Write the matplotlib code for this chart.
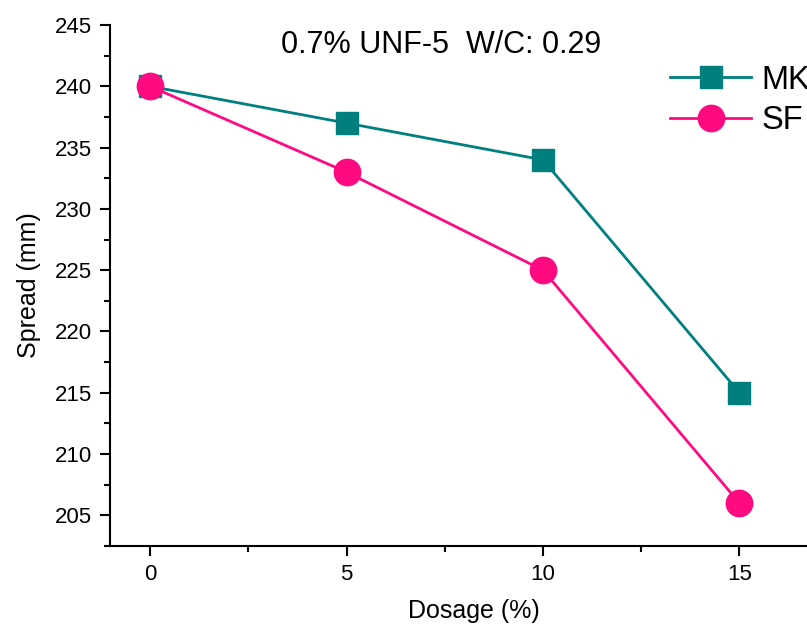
import matplotlib.pyplot as plt
from matplotlib.ticker import MultipleLocator

plt.rcParams['font.family'] = ['Liberation Sans', 'DejaVu Sans']

dosage = [0, 5, 10, 15]
mk = [240, 237, 234, 215]
sf = [240, 233, 225, 206]

teal = '#007f7f'
pink = '#ff0a80'

fig = plt.figure(figsize=(8.07, 6.27), dpi=100)
ax = fig.add_axes([0.1363, 0.1292, 0.9017, 0.8309])

ax.plot(dosage, mk, color=teal, lw=2, marker='s', ms=16, mfc=teal, mec=teal, label='MK')
ax.plot(dosage, sf, color=pink, lw=2, marker='o', ms=19, mfc=pink, mec=pink, label='SF')

ax.set_xlim(-1.02, 17.5)
ax.set_ylim(202.5, 245)
ax.xaxis.set_major_locator(MultipleLocator(5))
ax.xaxis.set_minor_locator(MultipleLocator(2.5))
ax.yaxis.set_major_locator(MultipleLocator(5))
ax.yaxis.set_minor_locator(MultipleLocator(2.5))
ax.tick_params(which='major', direction='out', length=7, width=1.5, labelsize=16, pad=6)
ax.tick_params(which='minor', direction='out', length=4, width=1.5)
for s in ['top', 'right']:
    ax.spines[s].set_visible(False)
for s in ['left', 'bottom']:
    ax.spines[s].set_linewidth(1.5)

ax.set_xlabel('Dosage (%)', fontsize=18, labelpad=10)
ax.set_ylabel('Spread (mm)', fontsize=18, labelpad=10)

fig.text(0.547, 0.928, '0.7% UNF-5  W/C: 0.29', fontsize=22, ha='center', va='center')

# legend is cut at the right edge, as in the source image
ax.legend(loc='upper left', bbox_to_anchor=(0.830, 0.897), bbox_transform=fig.transFigure,
          frameon=False, fontsize=23.5, handlelength=2.5, handletextpad=0.3,
          labelspacing=0.3, borderaxespad=0, borderpad=0)

fig.savefig('out.png', dpi=100)
